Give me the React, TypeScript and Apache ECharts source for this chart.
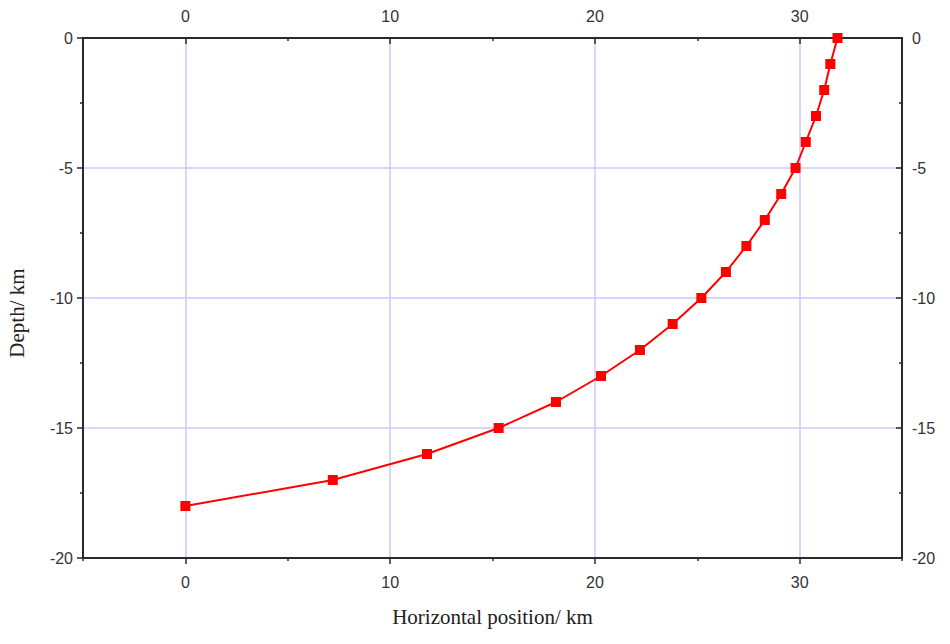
import React, { useEffect, useRef } from "react";
import * as echarts from "echarts";

const depthKm = [0, -1, -2, -3, -4, -5, -6, -7, -8, -9, -10, -11, -12, -13, -14, -15, -16, -17, -18];
const horizontalKm = [31.85, 31.5, 31.2, 30.8, 30.3, 29.8, 29.1, 28.3, 27.4, 26.4, 25.2, 23.8, 22.2, 20.3, 18.1, 15.3, 11.8, 7.2, 0];

const xMajorTicks = [0, 10, 20, 30];
const xMinorTicks = [-5, 5, 15, 25, 35];
const yMajorTicks = [-20, -15, -10, -5, 0];
const yMinorTicks = [-17.5, -12.5, -7.5, -2.5];

const X_MIN = -5, X_MAX = 35, Y_MIN = -20, Y_MAX = 0;

const axisColor = "#2a2a2a";
const labelStyle = { color: "#333", fontSize: 16, fontFamily: "Liberation Sans, Arial, sans-serif" };
const nameFont = "Liberation Serif, Times New Roman, serif";

export default function App() {
  const ref = useRef<HTMLDivElement>(null);
  useEffect(() => {
    if (!ref.current) return;
    const chart = echarts.init(ref.current, undefined, { renderer: "svg" });
    const points = horizontalKm.map((x, i) => [x, depthKm[i]]);

    const majorX = (position: "bottom" | "top", inside: boolean, name?: string) => ({
      type: "value",
      position,
      min: X_MIN,
      max: X_MAX,
      interval: 5,
      name: name || "",
      nameLocation: "middle",
      nameGap: 48,
      nameTextStyle: { fontFamily: nameFont, fontSize: 21, color: "#222" },
      axisLine: { show: true, onZero: false, lineStyle: { color: axisColor, width: 2 } },
      axisTick: { show: true, inside, length: 6, customValues: xMajorTicks, lineStyle: { color: axisColor, width: 1.5 } },
      axisLabel: { show: true, customValues: xMajorTicks, margin: position === "bottom" ? 16 : 14, ...labelStyle },
      splitLine: position === "bottom" ? { show: true, lineStyle: { color: "#c8c8ff", width: 1.5 } } : { show: false },
    });
    const minorX = (position: "bottom" | "top") => ({
      type: "value",
      position,
      min: X_MIN,
      max: X_MAX,
      interval: 5,
      axisLine: { show: false, onZero: false },
      axisTick: { show: true, inside: position === "top", length: 3, customValues: xMinorTicks, lineStyle: { color: axisColor, width: 1.5 } },
      axisLabel: { show: false },
      splitLine: { show: false },
    });
    const majorY = (position: "left" | "right", inside: boolean) => ({
      type: "value",
      position,
      min: Y_MIN,
      max: Y_MAX,
      interval: 5,
      axisLine: { show: true, onZero: false, lineStyle: { color: axisColor, width: 2 } },
      axisTick: { show: true, inside, length: 6, customValues: yMajorTicks, lineStyle: { color: axisColor, width: 1.5 } },
      axisLabel: { show: true, customValues: yMajorTicks, margin: 10, ...labelStyle },
      splitLine: position === "left" ? { show: true, lineStyle: { color: "#c8c8ff", width: 1.5 } } : { show: false },
    });
    const minorY = (position: "left" | "right") => ({
      type: "value",
      position,
      min: Y_MIN,
      max: Y_MAX,
      interval: 2.5,
      axisLine: { show: false, onZero: false },
      axisTick: { show: true, inside: position === "right", length: 3, customValues: yMinorTicks, lineStyle: { color: axisColor, width: 1.5 } },
      axisLabel: { show: false },
      splitLine: { show: false },
    });

    chart.setOption({
      animation: false,
      backgroundColor: "#ffffff",
      grid: { left: 83, right: 48, top: 38, bottom: 86, containLabel: false },
      xAxis: [
        majorX("bottom", false, "Horizontal position/ km"),
        majorX("top", true),
        minorX("bottom"),
        minorX("top"),
      ],
      yAxis: [majorY("left", false), majorY("right", true), minorY("left"), minorY("right")],
      graphic: [
        {
          type: "text",
          x: 17,
          y: 313,
          rotation: Math.PI / 2,
          style: {
            text: "Depth/ km",
            fontFamily: nameFont,
            fontSize: 21,
            fill: "#222",
            align: "center",
            verticalAlign: "middle",
          },
        },
      ],
      series: [
        {
          type: "line",
          xAxisIndex: 0,
          yAxisIndex: 0,
          data: points,
          smooth: false,
          symbol: "rect",
          symbolSize: 10,
          lineStyle: { color: "#ff0000", width: 2 },
          itemStyle: { color: "#ff0000" },
          z: 5,
        },
      ],
    });
    return () => chart.dispose();
  }, []);
  return <div ref={ref} style={{ width: 950, height: 644, position: "absolute", left: 0, top: 0 }} />;
}
